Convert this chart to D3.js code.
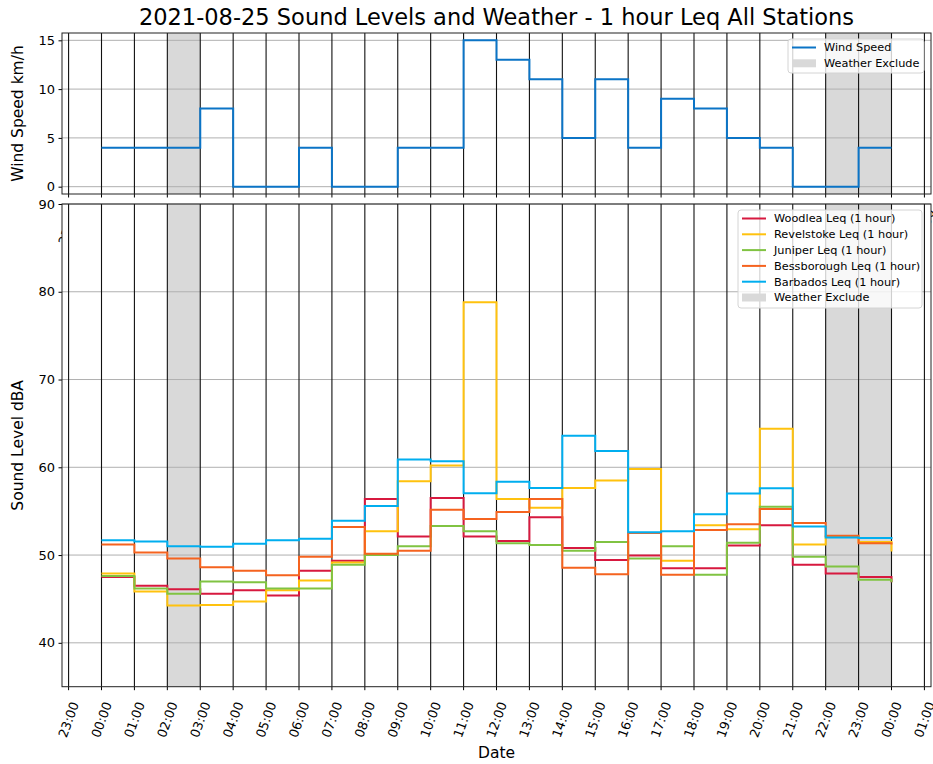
<!DOCTYPE html>
<html>
<head>
<meta charset="utf-8">
<script src="https://cdn.jsdelivr.net/npm/d3@7"></script>
<style>
  body { margin: 0; background: #fff; }
  svg text { font-family: "DejaVu Sans", sans-serif; fill: #000; }
</style>
</head>
<body>
<div id="chart"></div>
<script>
// Hours of the day (0 = 00:00 on 2021-08-25, 24 = 00:00 next day)
const hours = d3.range(0, 25);

// Tick hours and their labels
const tickHours = d3.range(-1, 26);
const tickLabels = ["23:00", "00:00", "01:00", "02:00", "03:00", "04:00", "05:00",
  "06:00", "07:00", "08:00", "09:00", "10:00", "11:00", "12:00", "13:00", "14:00",
  "15:00", "16:00", "17:00", "18:00", "19:00", "20:00", "21:00", "22:00", "23:00",
  "00:00", "01:00"];

// Wind speed km/h, one value per hour
const wind = [4, 4, 4, 8, 0, 0, 4, 0, 0, 4, 4, 15, 13, 11, 5, 11, 4, 9, 8, 5, 4, 0, 0, 4, 4];

// Sound levels dBA, 1 hour Leq
const woodlea = [47.5, 46.5, 46.1, 45.6, 46.0, 45.4, 48.2, 49.35, 56.4, 52.1, 56.5, 52.1, 51.6,
  54.3, 50.8, 49.45, 49.95, 48.5, 48.5, 51.1, 53.4, 48.9, 47.9, 47.5, 46.9];
const revelstoke = [47.9, 45.85, 44.25, 44.3, 44.7, 46.0, 47.1, 49.15, 52.7, 58.4, 60.2, 78.8, 56.4,
  55.4, 57.65, 58.5, 59.8, 49.35, 53.4, 52.95, 64.4, 51.2, 52.1, 51.5, 50.4];
const juniper = [47.6, 46.2, 45.6, 47.0, 46.9, 46.2, 46.2, 48.9, 50.0, 51.0, 53.3, 52.7, 51.35,
  51.15, 50.5, 51.5, 49.6, 51.0, 47.75, 51.4, 55.5, 49.8, 48.7, 47.2, 46.9];
const bessborough = [51.2, 50.3, 49.6, 48.6, 48.2, 47.7, 49.8, 53.2, 50.15, 50.5, 55.15, 54.1, 54.9,
  56.4, 48.55, 47.8, 52.5, 47.75, 52.85, 53.5, 55.25, 53.65, 52.2, 51.35, 51.2];
const barbados = [51.7, 51.55, 51.0, 50.95, 51.3, 51.7, 51.85, 53.9, 55.6, 60.9, 60.7, 57.05, 58.35,
  57.65, 63.6, 61.85, 52.6, 52.7, 54.65, 57.0, 57.6, 53.25, 52.0, 51.95, 51.8];

// Weather exclude periods [start hour, end hour]
const excludes = [[2, 3], [22, 24]];

const stations = [
  { name: "Woodlea Leq (1 hour)", values: woodlea, color: "#d7193f" },
  { name: "Revelstoke Leq (1 hour)", values: revelstoke, color: "#ffc20e" },
  { name: "Juniper Leq (1 hour)", values: juniper, color: "#80c342" },
  { name: "Bessborough Leq (1 hour)", values: bessborough, color: "#f5631f" },
  { name: "Barbados Leq (1 hour)", values: barbados, color: "#00aeef" },
];

// Sizes
const WIDTH = 933;
const HEIGHT = 764;
const LEFT = 62;
const RIGHT = 931;
const top1 = { y0: 33, y1: 194 };
const top2 = { y0: 204, y1: 686.7 };
const GRID_V = "#111";
const GRID_H = "#b0b0b0";
const SHADE = "#d9d9d9";

const svg = d3
  .select("#chart")
  .append("svg")
  .attr("width", WIDTH)
  .attr("height", HEIGHT);

// Scales
const x = d3.scaleLinear().domain([-1.2, 25.2]).range([LEFT, RIGHT]);
const yWind = d3.scaleLinear().domain([-0.75, 15.75]).range([top1.y1, top1.y0]);
const ySound = d3.scaleLinear().domain([35, 90]).range([top2.y1, top2.y0]);

/* Draws one panel: background, shading, grid */
function panel(y, p, yTicks) {
  const g = svg.append("g");
  g.append("rect")
    .attr("x", LEFT).attr("y", p.y0)
    .attr("width", RIGHT - LEFT).attr("height", p.y1 - p.y0)
    .attr("fill", "#fff");

  g.selectAll()
    .data(excludes)
    .enter()
    .append("rect")
    .attr("x", (d) => x(d[0]))
    .attr("y", p.y0)
    .attr("width", (d) => x(d[1]) - x(d[0]))
    .attr("height", p.y1 - p.y0)
    .attr("fill", SHADE);

  // horizontal grid
  g.selectAll()
    .data(yTicks)
    .enter()
    .append("line")
    .attr("x1", LEFT).attr("x2", RIGHT)
    .attr("y1", (d) => y(d)).attr("y2", (d) => y(d))
    .attr("stroke", GRID_H)
    .attr("stroke-width", 1);

  // vertical grid
  g.selectAll()
    .data(tickHours)
    .enter()
    .append("line")
    .attr("x1", (d) => x(d)).attr("x2", (d) => x(d))
    .attr("y1", p.y0).attr("y2", p.y1)
    .attr("stroke", GRID_V)
    .attr("stroke-width", 1.1);

  return g;
}

function axes(g, y, p, yTicks) {
  const yAxis = g.append("g")
    .attr("transform", "translate(" + LEFT + ",0)")
    .call(d3.axisLeft(y).tickValues(yTicks).tickSize(3.5).tickPadding(3.5));
  yAxis.select(".domain").remove();
  yAxis.selectAll("text").style("font-size", "13px").attr("fill", "#000");
  yAxis.selectAll("line").attr("stroke", "#000");

  // x ticks
  g.selectAll()
    .data(tickHours)
    .enter()
    .append("line")
    .attr("x1", (d) => x(d)).attr("x2", (d) => x(d))
    .attr("y1", p.y1).attr("y2", p.y1 + 3.5)
    .attr("stroke", "#000");

  // frame
  g.append("rect")
    .attr("x", LEFT).attr("y", p.y0)
    .attr("width", RIGHT - LEFT).attr("height", p.y1 - p.y0)
    .attr("fill", "none")
    .attr("stroke", "#222")
    .attr("stroke-width", 1);
}

function xLabels(p) {
  // rotated 70deg, centered under tick
  svg.append("g")
    .selectAll()
    .data(tickHours)
    .enter()
    .append("text")
    .attr("transform", (d) => "translate(" + x(d) + "," + (p.y1 + 33) + ") rotate(-70)")
    .attr("text-anchor", "middle")
    .attr("dy", "0.35em")
    .style("font-size", "12.8px")
    .text((d, i) => tickLabels[i]);
}

// Top panel: wind
const windTicks = [0, 5, 10, 15];
panel(yWind, top1, windTicks);
svg.append("path")
  .datum(wind)
  .attr("fill", "none")
  .attr("stroke", "#0b74c6")
  .attr("stroke-width", 2)
  .attr("d", d3.line().x((d, i) => x(hours[i])).y((d) => yWind(d)).curve(d3.curveStepAfter));
axes(svg.append("g"), yWind, top1, windTicks);
xLabels(top1); // mostly hidden under the lower panel

// Bottom panel: sound levels
const soundTicks = [40, 50, 60, 70, 80, 90];
panel(ySound, top2, soundTicks);
stations.forEach((s) => {
  svg.append("path")
    .datum(s.values)
    .attr("fill", "none")
    .attr("stroke", s.color)
    .attr("stroke-width", 2)
    .attr("d", d3.line().x((d, i) => x(hours[i])).y((d) => ySound(d)).curve(d3.curveStepAfter));
});
axes(svg.append("g"), ySound, top2, soundTicks);
xLabels(top2);

// Titles
svg.append("text")
  .attr("x", (LEFT + RIGHT) / 2).attr("y", 25)
  .attr("text-anchor", "middle")
  .style("font-size", "22.5px")
  .text("2021-08-25 Sound Levels and Weather - 1 hour Leq All Stations");

svg.append("text")
  .attr("transform", "translate(23," + (top1.y0 + top1.y1) / 2 + ") rotate(-90)")
  .attr("text-anchor", "middle")
  .style("font-size", "15.5px")
  .text("Wind Speed km/h");

svg.append("text")
  .attr("transform", "translate(23," + (top2.y0 + top2.y1) / 2 + ") rotate(-90)")
  .attr("text-anchor", "middle")
  .style("font-size", "15.5px")
  .text("Sound Level dBA");

svg.append("text")
  .attr("x", (LEFT + RIGHT) / 2).attr("y", 758)
  .attr("text-anchor", "middle")
  .style("font-size", "15.5px")
  .text("Date");

/* Legend box with line or patch entries */
function legend(box, items) {
  const g = svg.append("g");
  g.append("rect")
    .attr("x", box.x).attr("y", box.y)
    .attr("width", box.w).attr("height", box.h)
    .attr("rx", 3)
    .attr("fill", "#fff").attr("fill-opacity", 0.8)
    .attr("stroke", "#d4d4d4");
  items.forEach((it, i) => {
    const cy = box.y + 8.5 + i * 15.8;
    if (it.patch) {
      g.append("rect")
        .attr("x", box.x + 4).attr("y", cy - 4)
        .attr("width", 24).attr("height", 8)
        .attr("fill", SHADE);
    } else {
      g.append("line")
        .attr("x1", box.x + 4).attr("x2", box.x + 28)
        .attr("y1", cy).attr("y2", cy)
        .attr("stroke", it.color).attr("stroke-width", 2);
    }
    g.append("text")
      .attr("x", box.x + 36).attr("y", cy)
      .attr("dy", "0.35em")
      .style("font-size", "11.3px")
      .attr("fill", "#222")
      .text(it.name);
  });
}

legend({ x: 788, y: 39, w: 136, h: 34 },
  [{ name: "Wind Speed", color: "#0b74c6" }, { name: "Weather Exclude", patch: true }]);

legend({ x: 738, y: 210, w: 184, h: 98 },
  stations.map((s) => ({ name: s.name, color: s.color })).concat([{ name: "Weather Exclude", patch: true }]));
</script>
</body>
</html>
